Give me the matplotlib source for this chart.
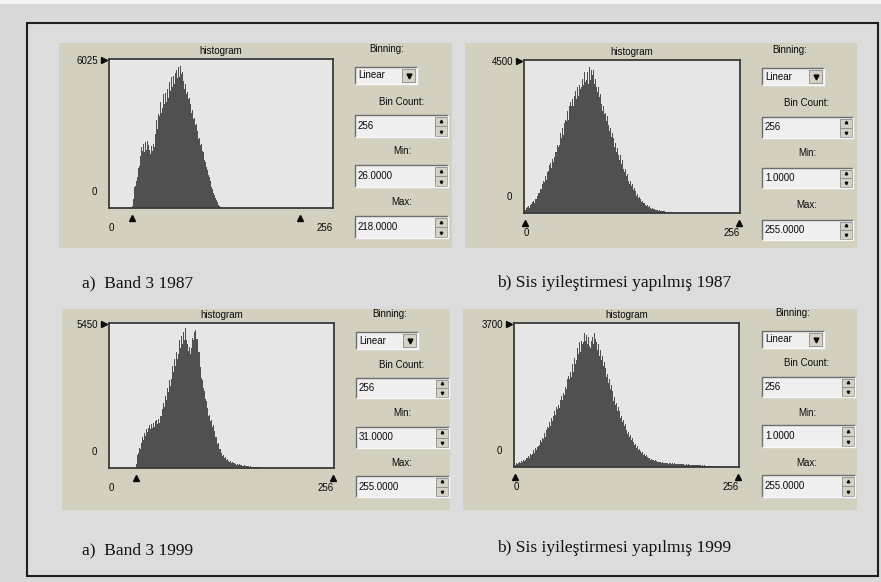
import matplotlib
matplotlib.use('Agg')
import matplotlib.pyplot as plt
from matplotlib.patches import Rectangle
import matplotlib.transforms as mtransforms
import numpy as np

# ---------------- data ----------------
captions = ["a)  Band 3 1987", "b) Sis iyileştirmesi yapılmış 1987",
            "a)  Band 3 1999", "b) Sis iyileştirmesi yapılmış 1999"]
y_max_labels = [6025, 4500, 5450, 3700]
bin_count = [256, 256, 256, 256]
min_values = [26.0, 1.0, 31.0, 1.0]
max_values = [218.0, 255.0, 255.0, 255.0]
x_range = [0, 256]

# histogram counts per bin, starting at the given bin
h1_start = 26
h1_counts = [100, 380, 560, 850, 900, 1100, 1250, 1600, 1700, 2100,
             2200, 2450, 2300, 2600, 2250, 2650, 2350, 2700, 2300, 2550,
             2350, 2200, 2500, 2300, 2600, 2450, 2900, 3000, 3550, 3200,
             3800, 3700, 4300, 3850, 4400, 4050, 4600, 4200, 4650, 4300,
             4800, 4450, 4950, 5100, 4750, 5300, 4900, 5350, 5000, 5450,
             5100, 5600, 5250, 5700, 5300, 5750, 5400, 5500, 5100, 5150,
             4800, 5000, 4600, 4700, 4400, 4450, 4100, 4200, 3850, 3950,
             3600, 3650, 3350, 3400, 3050, 3100, 2800, 2850, 2550, 2600,
             2300, 2250, 2050, 1950, 1850, 1650, 1550, 1350, 1250, 1100,
             1000, 850, 750, 600, 520, 400, 320, 230, 180, 120, 70, 30]

h2_start = 1
h2_counts = [90, 150, 110, 180, 200, 150, 240, 260, 220, 320,
             360, 300, 420, 400, 500, 480, 600, 580, 720, 700,
             860, 760, 950, 920, 1100, 980, 1200, 1180, 1250, 1400,
             1480, 1330, 1580, 1500, 1720, 1650, 1780, 1800, 2000, 1950,
             2200, 2000, 2350, 2200, 2500, 2280, 2650, 2550, 2750, 2700,
             3000, 2750, 3150, 2900, 3250, 3150, 3350, 3150, 3450, 3250,
             3600, 3350, 3700, 3450, 3750, 3650, 3850, 3700, 3950, 3750,
             4150, 3850, 4250, 3900, 4150, 3800, 4300, 3900, 4200, 3850,
             4050, 4200, 3800, 3950, 3700, 3850, 3550, 3700, 3400, 3500,
             3200, 3300, 3000, 3150, 2900, 2950, 2700, 2850, 2550, 2600,
             2400, 2500, 2250, 2350, 2100, 2200, 1950, 2050, 1800, 1900,
             1700, 1800, 1550, 1700, 1450, 1550, 1300, 1400, 1200, 1300,
             1100, 1150, 950, 1050, 850, 950, 780, 850, 680, 750,
             580, 640, 500, 560, 430, 480, 370, 420, 310, 350,
             280, 300, 240, 270, 200, 230, 170, 200, 150, 170,
             130, 150, 110, 130, 100, 115, 80, 95, 70, 80,
             60, 70, 50, 60, 45, 50, 35, 42, 30, 35,
             22, 26, 16, 18, 10]

h3_start = 31
h3_counts = [150, 480, 560, 760, 700, 950, 900, 1150, 1050, 1300,
             1200, 1450, 1350, 1500, 1400, 1600, 1450, 1650, 1500, 1700,
             1550, 1750, 1600, 1800, 1650, 1850, 1700, 1950, 1950, 2200,
             2100, 2450, 2300, 2700, 2550, 3000, 2850, 3300, 3100, 3550,
             3350, 3850, 3600, 4100, 3850, 4350, 4100, 4600, 4300, 4800,
             4500, 4950, 4650, 5100, 4800, 5150, 5250, 4800, 4650, 4400,
             4550, 4300, 4500, 4550, 4900, 4800, 5100, 5200, 4850, 4850,
             4350, 4350, 3850, 3800, 3400, 3300, 3000, 2900, 2600, 2500,
             2250, 2250, 1950, 2000, 1750, 1800, 1550, 1600, 1350, 1400,
             1150, 1150, 900, 950, 700, 720, 560, 600, 450, 480,
             380, 400, 310, 340, 260, 290, 220, 250, 190, 220,
             170, 190, 150, 170, 130, 150, 110, 135, 100, 120,
             90, 105, 80, 95, 70, 85, 60, 72, 52, 60,
             45, 52, 38, 45, 33, 38, 28, 32, 24, 27,
             20, 22, 16, 15, 12]

h4_start = 1
h4_counts = [60, 100, 70, 120, 90, 140, 110, 160, 130, 180,
             150, 210, 190, 230, 220, 280, 240, 330, 300, 360,
             340, 430, 360, 480, 440, 520, 530, 640, 560, 700,
             650, 740, 720, 870, 780, 940, 880, 1020, 1000, 1150,
             1050, 1250, 1180, 1320, 1260, 1430, 1330, 1530, 1480, 1600,
             1520, 1720, 1600, 1820, 1720, 1900, 1850, 2050, 2000, 2250,
             2050, 2350, 2250, 2450, 2300, 2650, 2450, 2800, 2650, 2900,
             2750, 3050, 2900, 3200, 2950, 3250, 3150, 3350, 3200, 3450,
             3250, 3400, 3150, 3350, 3100, 3300, 3050, 3250, 3350, 3150,
             3450, 3300, 3200, 3300, 3000, 3150, 2850, 3000, 2750, 2850,
             2600, 2700, 2450, 2550, 2300, 2400, 2150, 2250, 2000, 2100,
             1850, 1950, 1700, 1800, 1600, 1650, 1450, 1550, 1350, 1450,
             1250, 1300, 1150, 1200, 1050, 1100, 950, 1000, 850, 900,
             780, 820, 700, 750, 640, 680, 560, 600, 500, 540,
             440, 470, 400, 420, 350, 380, 310, 330, 280, 300,
             260, 270, 220, 240, 190, 210, 170, 180, 150, 170,
             140, 155, 130, 140, 120, 130, 110, 125, 100, 115,
             95, 110, 90, 100, 85, 98, 82, 95, 80, 92,
             78, 90, 76, 88, 72, 85, 70, 80, 68, 78,
             66, 75, 62, 72, 60, 68, 58, 66, 55, 62,
             52, 60, 50, 58, 48, 55, 45, 52, 42, 48,
             40, 45, 38, 42, 35, 40, 32, 36, 30, 34,
             28, 30, 25, 27, 22, 24, 20, 21, 17, 18,
             14, 12, 9, 7, 4]

hist_starts = [h1_start, h2_start, h3_start, h4_start]
hist_counts = [h1_counts, h2_counts, h3_counts, h4_counts]

# ---------------- layout (pixels) ----------------
W, H = 881, 582
panel_rects = [(59, 43, 452, 248), (465, 43, 857, 248),
               (62, 309, 450, 510), (463, 309, 857, 510)]
plot_rects = [(109, 59, 333, 208), (524, 60, 740, 213),
              (109, 323, 334, 468), (514, 323, 739, 467)]
controls = [
    (355, 448, 387, 402, 49, 67, 84, 102, 115, 137, 151, 165, 187, 202, 216, 238),
    (762, 853, 790, 807, 50, 68, 85, 103, 117, 138, 153, 168, 188, 205, 220, 240),
    (356, 449, 390, 402, 314, 332, 349, 365, 378, 398, 413, 427, 448, 463, 476, 497),
    (762, 855, 793, 807, 313, 331, 348, 363, 377, 397, 413, 425, 447, 463, 475, 497),
]
caption_pos = [(82, 283), (497, 283), (82, 550), (497, 548)]

BG = '#d9d9d9'
BEIGE = '#d3d0c0'
PLOTBG = '#e6e6e6'
HISTC = '#505050'
UIFONT = ['Liberation Sans', 'DejaVu Sans']
UIFS = 7
TXT = '#0a0a0a'

fig = plt.figure(figsize=(W / 100, H / 100), dpi=100)
fig.patch.set_facecolor(BG)
ov = fig.add_axes([0, 0, 1, 1], zorder=0)
ov.set_xlim(0, W)
ov.set_ylim(H, 0)
ov.axis('off')

ov.add_patch(Rectangle((0, 0), W, 4, color='#f3f3f3', lw=0))
ov.add_patch(Rectangle((27, 23), 851, 553, facecolor='#dcdcdc',
                       edgecolor='#1e1e1e', lw=1.5))


def sunken(x0, y0, x1, y1, face='#eeeeee'):
    ov.add_patch(Rectangle((x0, y0), x1 - x0, y1 - y0, facecolor=face, lw=0))
    ov.plot([x0, x0, x1], [y1, y0, y0], color='#6e6e6e', lw=1.0, solid_capstyle='butt')
    ov.plot([x0, x1, x1], [y1, y1, y0], color='#f8f8f8', lw=1.0, solid_capstyle='butt')


def raised(x0, y0, x1, y1):
    ov.add_patch(Rectangle((x0, y0), x1 - x0, y1 - y0, facecolor='#d6d3c6',
                           edgecolor='#8a8a8a', lw=0.6))


def uitext(x, y, s, ha='center'):
    ov.text(x, y, s, ha=ha, va='center', fontsize=UIFS, family=UIFONT, color=TXT)


for i in range(4):
    px0, py0, px1, py1 = panel_rects[i]
    ov.add_patch(Rectangle((px0, py0), px1 - px0, py1 - py0, facecolor=BEIGE, lw=0))

    (bx0, bx1, bin_cx, lab_cx, bin_y, dd0, dd1, bc_y, bc0, bc1,
     mn_y, mn0, mn1, mx_y, mx0, mx1) = controls[i]
    uitext(bin_cx, bin_y, 'Binning:')
    ddx1 = bx0 + 62
    sunken(bx0, dd0, ddx1, dd1, face='#f0f0f0')
    uitext(bx0 + 3, (dd0 + dd1) / 2, 'Linear', ha='left')
    raised(ddx1 - 15, dd0 + 2, ddx1 - 2, dd1 - 2)
    ov.plot([ddx1 - 8.5], [(dd0 + dd1) / 2 + 0.5], marker='v', ms=3.5, color=TXT)
    labels = ['Bin Count:', 'Min:', 'Max:']
    vals = ['%d' % bin_count[i], '%.4f' % min_values[i], '%.4f' % max_values[i]]
    ys = [(bc_y, bc0, bc1), (mn_y, mn0, mn1), (mx_y, mx0, mx1)]
    for lab, val, (ly, y0, y1) in zip(labels, vals, ys):
        uitext(lab_cx, ly, lab)
        sunken(bx0, y0, bx1, y1, face='#f0f0f0')
        uitext(bx0 + 3, (y0 + y1) / 2, val, ha='left')
        ym = (y0 + y1) / 2
        raised(bx1 - 13, y0 + 1.5, bx1 - 1, ym)
        raised(bx1 - 13, ym, bx1 - 1, y1 - 1.5)
        ov.plot([bx1 - 7], [(y0 + ym) / 2], marker='^', ms=1.8, color=TXT)
        ov.plot([bx1 - 7], [(ym + y1) / 2], marker='v', ms=1.8, color=TXT)

    x0, y0, x1, y1 = plot_rects[i]
    wpx, hpx = x1 - x0, y1 - y0
    ax = fig.add_axes([x0 / W, 1 - y1 / H, wpx / W, hpx / H], zorder=2)
    ax.set_facecolor(PLOTBG)
    ax.set_xlim(x_range[0], x_range[1])
    ax.set_ylim(0, y_max_labels[i])
    ax.set_xticks([])
    ax.set_yticks([])
    for sp in ax.spines.values():
        sp.set_color('#3a3a3a')
        sp.set_linewidth(1.3)
    counts = hist_counts[i]
    start = hist_starts[i]
    edges = np.arange(start, start + len(counts) + 1)
    ax.stairs(counts, edges, fill=True, color=HISTC, lw=0)

    ax.text(0.5, 1 + 8 / hpx, 'histogram', transform=ax.transAxes, ha='center',
            va='center', fontsize=UIFS, family=UIFONT, color=TXT)
    ax.text(-11 / wpx, 1 - 2 / hpx, str(y_max_labels[i]), transform=ax.transAxes,
            ha='right', va='center', fontsize=UIFS, family=UIFONT, color=TXT)
    ax.plot([-5 / wpx], [1 - 0.5 / hpx], marker='>', ms=4.5, color=TXT,
            transform=ax.transAxes, clip_on=False)
    ax.text(-15 / wpx, 16 / hpx, '0', transform=ax.transAxes, ha='center',
            va='center', fontsize=UIFS, family=UIFONT, color=TXT)
    btr = mtransforms.blended_transform_factory(ax.transData, ax.transAxes)
    ax.plot([min_values[i], max_values[i]], [-10 / hpx, -10 / hpx], ls='none',
            marker='^', ms=5, color=TXT, transform=btr, clip_on=False)
    ax.text(x_range[0], -20 / hpx, str(x_range[0]), transform=btr, ha='left',
            va='center', fontsize=UIFS, family=UIFONT, color=TXT)
    ax.text(x_range[1], -20 / hpx, str(x_range[1]), transform=btr, ha='right',
            va='center', fontsize=UIFS, family=UIFONT, color=TXT)

    cx, cy = caption_pos[i]
    ov.text(cx, cy, captions[i], ha='left', va='center', fontsize=12.5,
            family=['Liberation Serif', 'DejaVu Serif'], color='#111111')

fig.savefig('out.png', dpi=100, facecolor=BG)
